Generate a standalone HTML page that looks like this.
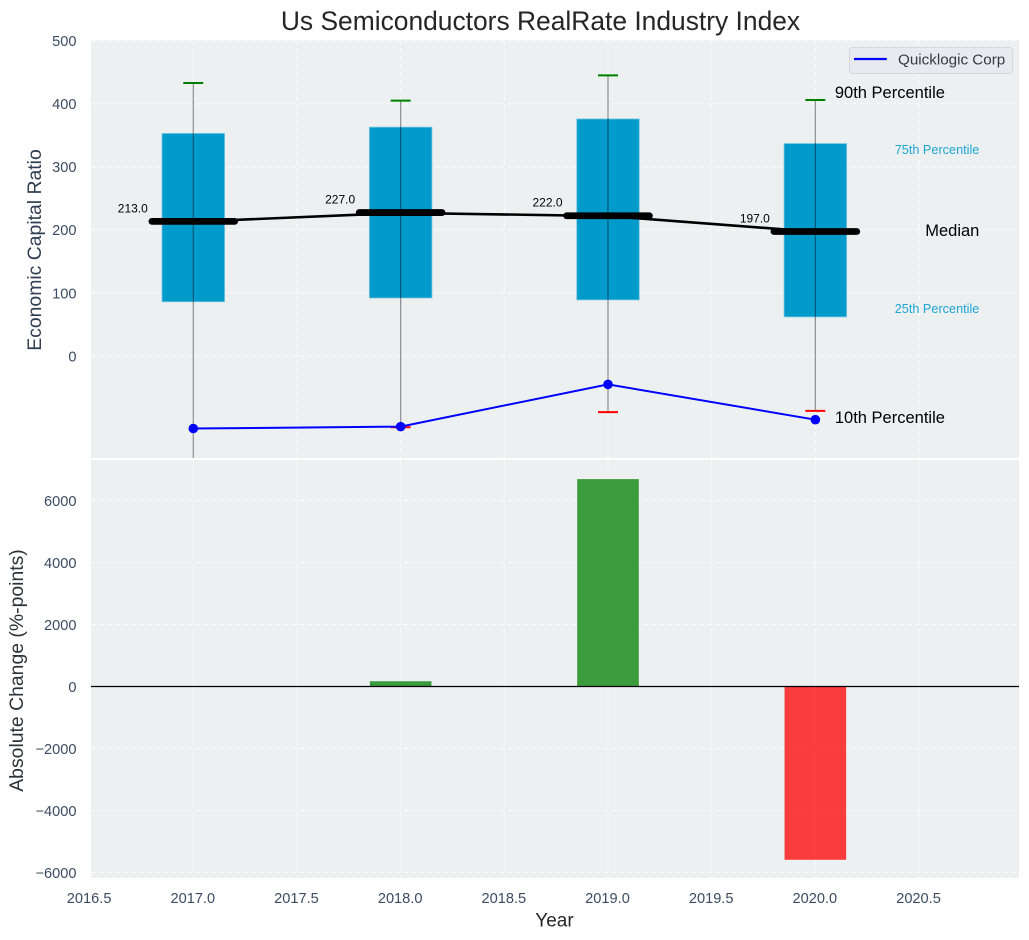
<!DOCTYPE html>
<html lang="en">
<head>
<meta charset="utf-8">
<title>Us Semiconductors RealRate Industry Index</title>
<style>
html,body{margin:0;padding:0;background:#fff;width:1029px;height:940px;overflow:hidden}
svg{display:block}
text{font-family:"Liberation Sans",Arial,sans-serif}
</style>
</head>
<body>
<svg id="chart" xmlns="http://www.w3.org/2000/svg" width="1029" height="940" viewBox="0 0 1029 940">
<defs>
<clipPath id="clip-top"><rect x="91" y="40" width="928" height="418"/></clipPath>
<clipPath id="clip-bottom"><rect x="91" y="460" width="928" height="418"/></clipPath>
</defs>
</svg>
<script>
const years = [2017, 2018, 2019, 2020];
const p90 = [433, 405, 445, 406];
const p75 = [353, 363, 376, 337];
const medians = [213, 227, 222, 197];
const p25 = [86, 92, 89, 62];
const p10 = [-190, -113, -89, -87];
const company = [-115, -112, -45, -101];
const changes = [0, 170, 6690, -5590];
const xTicks = [2016.5, 2017, 2017.5, 2018, 2018.5, 2019, 2019.5, 2020, 2020.5];
const yTicksTop = [0, 100, 200, 300, 400, 500];
const yTicksBottom = [-6000, -4000, -2000, 0, 2000, 4000, 6000];

const NS = 'http://www.w3.org/2000/svg';
const svg = document.getElementById('chart');
const sx = v => 193.3 + (v - 2017) * 207.35;
const syTop = v => 356 - v * 0.6305;
const syBot = v => 686.5 - v * 0.0310;

function add(parent, tag, name, attrs, content) {
  const el = document.createElementNS(NS, tag);
  
  
  for (const k in attrs) el.setAttribute(k, attrs[k]);
  if (content !== undefined) el.textContent = content;
  parent.appendChild(el);
  return el;
}
function line(parent, name, x1, y1, x2, y2, stroke, width, extra) {
  return add(parent, 'line', name, Object.assign({x1, y1, x2, y2, stroke, 'stroke-width': width}, extra || {}));
}
function label(parent, name, x, y, str, size, fill, anchor, extra) {
  return add(parent, 'text', name, Object.assign({x, y, fill, 'font-size': size, 'text-anchor': anchor || 'start', 'dominant-baseline': 'central'}, extra || {}), str);
}

/* panel backgrounds */
add(svg, 'rect', 'top-panel-background', {x: 91, y: 40, width: 928, height: 418, fill: '#ecf0f1'});
add(svg, 'rect', 'bottom-panel-background', {x: 91, y: 460, width: 928, height: 418, fill: '#ecf0f1'});

/* grids */
const gridStyle = {'stroke-dasharray': '5 3', opacity: 0.75};
const tickBaseline = {'dominant-baseline': 'auto'};
const topPanel = add(svg, 'g', 'top-panel', {'clip-path': 'url(#clip-top)'});
const botPanel = add(svg, 'g', 'bottom-panel', {'clip-path': 'url(#clip-bottom)'});
xTicks.forEach(t => {
  line(topPanel, 'top-x-gridline', sx(t), 40, sx(t), 458, '#fff', 1, gridStyle);
  line(botPanel, 'bottom-x-gridline', sx(t), 460, sx(t), 878, '#fff', 1, gridStyle);
  label(svg, 'x-tick-label', sx(t) - 0.5, 899, t.toFixed(1), 14.6, '#3b4c63', 'middle');
});
yTicksTop.forEach(t => {
  line(topPanel, 'top-y-gridline', 91, syTop(t), 1019, syTop(t), '#fff', 1, gridStyle);
  label(svg, 'top-y-tick-label', 76.5, syTop(t) + 5.3, String(t), 14.6, '#3b4c63', 'end', tickBaseline);
});
yTicksBottom.forEach(t => {
  line(botPanel, 'bottom-y-gridline', 91, syBot(t), 1019, syBot(t), '#fff', 1, gridStyle);
  label(svg, 'bottom-y-tick-label', 76.5, syBot(t) + 5.3, String(t).replace('-', '\u2212'), 14.6, '#3b4c63', 'end', tickBaseline);
});

/* boxes 25th-75th percentile */
years.forEach((y, i) => {
  add(topPanel, 'rect', 'box-' + y, {x: sx(y) - 31.3, y: syTop(p75[i]), width: 62.6, height: syTop(p25[i]) - syTop(p75[i]), fill: '#009acb', stroke: '#7cc8e2', 'stroke-width': 0.8});
});
/* whiskers */
years.forEach((y, i) => {
  line(topPanel, 'whisker-' + y, sx(y), syTop(p90[i]), sx(y), syTop(p10[i]), '#000', 1.2, {opacity: 0.42});
  line(topPanel, 'cap-90th-' + y, sx(y) - 10, syTop(p90[i]), sx(y) + 10, syTop(p90[i]), '#008000', 2);
  line(topPanel, 'cap-10th-' + y, sx(y) - 10, syTop(p10[i]), sx(y) + 10, syTop(p10[i]), '#ff0000', 2);
});
/* median connecting line and thick median bars */
add(topPanel, 'polyline', 'median-line', {points: years.map((y, i) => sx(y) + ',' + syTop(medians[i])).join(' '), fill: 'none', stroke: '#000', 'stroke-width': 2.6});
years.forEach((y, i) => {
  line(topPanel, 'median-bar-' + y, sx(y) - 41.4, syTop(medians[i]) - 0.3, sx(y) + 41.4, syTop(medians[i]) - 0.3, '#000', 6.8, {'stroke-linecap': 'round'});
  label(svg, 'median-value-' + y, sx(y) - 45.5, syTop(medians[i]) - 13.3, medians[i].toFixed(1), 12, '#000', 'end');
});
/* company series */
add(topPanel, 'polyline', 'quicklogic-line', {points: years.map((y, i) => sx(y) + ',' + syTop(company[i])).join(' '), fill: 'none', stroke: '#0000ff', 'stroke-width': 2});
years.forEach((y, i) => {
  add(topPanel, 'circle', 'quicklogic-point-' + y, {cx: sx(y), cy: syTop(company[i]), r: 4.8, fill: '#0000ff'});
});

/* percentile annotations, anchored on the last year */
const last = years.length - 1;
const lx = sx(years[last]);
label(svg, 'label-90th-percentile', lx + 19.5, syTop(p90[last]) - 7.2, '90th Percentile', 16.5, '#000', 'start');
label(svg, 'label-75th-percentile', lx + 164, syTop(p75[last]) + 6.5, '75th Percentile', 12.7, '#1ea5d2', 'end');
label(svg, 'label-median', lx + 164, syTop(medians[last]) - 1, 'Median', 16.5, '#000', 'end');
label(svg, 'label-25th-percentile', lx + 164, syTop(p25[last]) - 8, '25th Percentile', 12.7, '#1ea5d2', 'end');
label(svg, 'label-10th-percentile', lx + 19.5, syTop(p10[last]) + 7, '10th Percentile', 16.5, '#000', 'start');

/* change bars */
years.forEach((y, i) => {
  const v = changes[i];
  const y0 = syBot(Math.max(v, 0));
  const y1 = syBot(Math.min(v, 0));
  add(botPanel, 'rect', 'change-bar-' + y, {x: sx(y) - 30.8, y: y0, width: 61.6, height: y1 - y0, fill: v >= 0 ? '#008000' : '#ff0000', 'fill-opacity': 0.75});
});
line(botPanel, 'zero-line', 91, syBot(0), 1019, syBot(0), '#000', 1.3);

/* legend */
add(svg, 'rect', 'legend-box', {x: 849.5, y: 47.5, width: 163, height: 26, rx: 3, fill: '#e9e9f0', stroke: '#d6d6de', 'stroke-width': 1});
line(svg, 'legend-line', 854, 59, 886.8, 59, '#0000ff', 2.2);
label(svg, 'legend-label', 898, 60, 'Quicklogic Corp', 15.2, '#3a3a44', 'start');

/* titles */
label(svg, 'chart-title', 540.5, 21, 'Us Semiconductors RealRate Industry Index', 26.4, '#262626', 'middle');
label(svg, 'x-axis-title', 554.5, 921, 'Year', 19, '#262626', 'middle');
label(svg, 'top-y-axis-title', 0, 0, 'Economic Capital Ratio', 19.4, '#2f3e50', 'middle', {transform: 'translate(35 250) rotate(-90)'});
label(svg, 'bottom-y-axis-title', 0, 0, 'Absolute Change (%-points)', 19.4, '#2c3338', 'middle', {transform: 'translate(17 670.5) rotate(-90)'});
</script>
</body>
</html>
